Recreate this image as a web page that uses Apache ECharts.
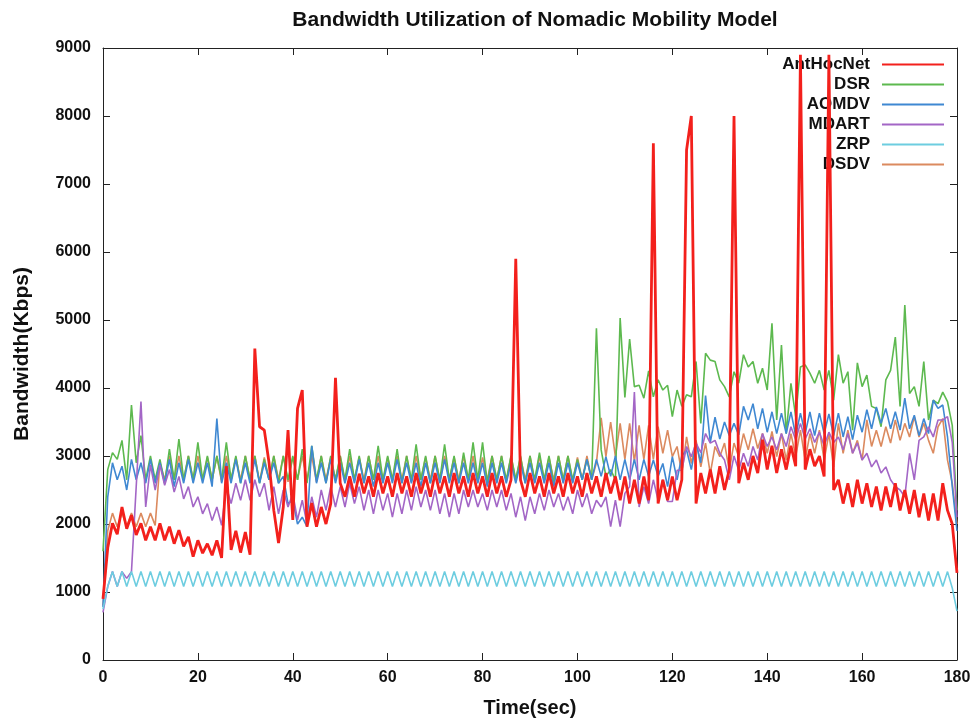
<!DOCTYPE html>
<html>
<head>
<meta charset="utf-8">
<title>Bandwidth Utilization of Nomadic Mobility Model</title>
<script src="https://cdn.jsdelivr.net/npm/echarts@6/dist/echarts.min.js"></script>
<style>
  html, body { margin: 0; padding: 0; background: #fff; }
  #chart { width: 972px; height: 721px; }
</style>
</head>
<body>
<div id="chart"></div>
<script>
// one value per second, t = 0 .. 180
var antHocNet = [
  900, 1650, 2010, 1850, 2250, 1930, 2130, 1840, 2010, 1760,
  1960, 1760, 2010, 1760, 1960, 1710, 1910, 1670, 1810, 1520,
  1760, 1570, 1710, 1540, 1760, 1500, 2850, 1620, 1900, 1580,
  1880, 1550, 4580, 3430, 3380, 2900, 2200, 1720, 2250, 3380,
  2060, 3700, 3970, 1960, 2310, 1960, 2250, 2000, 2300, 4150,
  2600, 2400, 2700, 2400, 2740, 2450, 2700, 2400, 2750, 2450,
  2700, 2400, 2750, 2450, 2700, 2400, 2750, 2450, 2700, 2400,
  2750, 2450, 2700, 2400, 2750, 2450, 2700, 2400, 2750, 2450,
  2700, 2400, 2750, 2450, 2700, 2400, 2650, 5900, 2650, 2400,
  2750, 2450, 2700, 2400, 2750, 2450, 2700, 2400, 2750, 2450,
  2700, 2400, 2750, 2450, 2700, 2400, 2750, 2450, 2700, 2350,
  2700, 2300, 2650, 2300, 2700, 2350, 7600, 2300, 2650, 2350,
  2700, 2350, 2650, 7500, 8000, 2300, 2750, 2450, 2800, 2450,
  2850, 2500, 2800, 8000, 2600, 2900, 2650, 3000, 2750, 3240,
  2800, 3150, 2750, 3100, 2800, 3150, 2850, 8900, 2800, 3100,
  2850, 3000, 2700, 8900, 2500, 2650, 2300, 2600, 2250, 2650,
  2300, 2600, 2250, 2550, 2200, 2550, 2250, 2600, 2200, 2500,
  2150, 2500, 2100, 2450, 2050, 2450, 2050, 2600, 2200, 2000,
  1280
];

var dsr = [
  1600, 2800, 3050, 2950, 3230, 2650, 3750, 2900, 3300, 2650,
  3000, 2650, 2950, 2600, 3100, 2650, 3250, 2650, 3000, 2650,
  3200, 2650, 3000, 2650, 3000, 2650, 3200, 2650, 3000, 2600,
  3000, 2650, 3000, 2600, 2950, 2650, 3000, 2600, 3000, 2650,
  3000, 2650, 3100, 2600, 3150, 2650, 3000, 2600, 3000, 2650,
  3000, 2650, 3100, 2650, 3000, 2600, 3000, 2650, 3150, 2650,
  3000, 2650, 3100, 2600, 3000, 2650, 3170, 2650, 3000, 2600,
  3000, 2650, 3170, 2650, 3000, 2600, 3050, 2650, 3200, 2650,
  3200, 2600, 3000, 2650, 3000, 2650, 3000, 2650, 3000, 2600,
  3000, 2650, 3050, 2650, 3000, 2600, 3000, 2650, 3000, 2650,
  2950, 2650, 2950, 2650, 4880, 3090, 2700, 2800, 2650, 5030,
  3860, 4720, 4020, 4040, 3850, 4250, 3870, 4120, 3970, 4040,
  3580, 3970, 3730, 3900, 3870, 4390, 3480, 4510, 4410, 4390,
  4120, 4020, 3870, 4240, 4070, 4490, 4310, 4390, 4070, 4290,
  3970, 4950, 3530, 4630, 3330, 4070, 3580, 4310, 4340, 4220,
  4070, 4260, 3970, 4260, 3820, 4490, 4070, 4240, 3380, 4370,
  4020, 4190, 3730, 3700, 3430, 4120, 4260, 4750, 3730, 5220,
  3920, 4020, 3730, 4390, 3530, 3820, 3770, 3940, 3800, 3450,
  2200
];

var aomdv = [
  780, 2400, 2900, 2650, 2850, 2500, 2950, 2650, 2900, 2600,
  2950, 2600, 2900, 2600, 2950, 2550, 2900, 2600, 2950, 2600,
  2900, 2600, 2900, 2550, 3550, 2600, 2900, 2600, 2950, 2600,
  2900, 2600, 2950, 2600, 2900, 2650, 2900, 2600, 2700, 2300,
  2350, 2000, 2100, 1960, 3150, 2600, 2900, 2600, 2950, 2600,
  2900, 2600, 2900, 2600, 2950, 2600, 2900, 2550, 2900, 2600,
  2900, 2600, 2950, 2600, 2900, 2600, 2900, 2550, 2900, 2600,
  2900, 2600, 2950, 2600, 2900, 2600, 2900, 2600, 2900, 2600,
  2900, 2550, 2900, 2600, 2900, 2600, 2900, 2600, 2900, 2600,
  2900, 2600, 2900, 2600, 2900, 2550, 2900, 2600, 2900, 2600,
  2900, 2650, 2950, 2650, 2950, 2700, 2990, 2700, 3000, 2650,
  2950, 2650, 2950, 2650, 2950, 2700, 2940, 2700, 2890, 2550,
  2990, 2650, 3000, 3090, 2800, 3190, 2900, 3890, 3200, 3570,
  3250, 3500, 3300, 3480, 3310, 3730, 3530, 3770, 3400, 3700,
  3350, 3650, 3330, 3630, 3330, 3650, 3300, 3630, 3330, 3650,
  3300, 3630, 3330, 3620, 3300, 3630, 3280, 3580, 3240, 3600,
  3350, 3680, 3400, 3720, 3480, 3700, 3400, 3650, 3380, 3850,
  3400, 3600, 3300, 3550, 3330, 3820, 3700, 3750, 3280, 2550,
  1900
];

var mdart = [
  700, 1080, 1300, 1080, 1300, 1200, 1300, 2550, 3800, 2250,
  2870, 2500, 2870, 2570, 2800, 2470, 2700, 2370, 2550, 2250,
  2400, 2150, 2300, 2050, 2250, 1980, 2550, 2300, 2600, 2350,
  2650, 2350, 2650, 2400, 2600, 2200, 2550, 2150, 2500, 2250,
  2450, 2060, 2350, 2000, 2400, 2100, 2500, 2200, 2550, 2250,
  2550, 2250, 2600, 2300, 2550, 2200, 2500, 2150, 2500, 2200,
  2450, 2100, 2450, 2150, 2500, 2200, 2550, 2250, 2500, 2200,
  2500, 2150, 2450, 2100, 2450, 2150, 2500, 2250, 2500, 2250,
  2450, 2200, 2500, 2250, 2500, 2200, 2450, 2100, 2400, 2050,
  2400, 2150, 2450, 2200, 2500, 2250, 2450, 2200, 2400, 2150,
  2500, 2250, 2450, 2150, 2350, 2250, 2400, 1960, 2350, 1960,
  2450, 2550, 3940, 2250, 2550, 2300, 2650, 2350, 2650, 2330,
  2330, 2790, 2790, 3140, 2990, 3190, 3050, 3330, 3190, 3230,
  3040, 2940, 2650, 3000, 2790, 3040, 2850, 3140, 2940, 3330,
  3140, 3280, 3090, 3330, 3140, 3430, 3240, 3480, 3250, 3400,
  3200, 3350, 3150, 3350, 3200, 3280, 3090, 3330, 3040, 3190,
  2940, 3040, 2840, 2940, 2750, 2840, 2650, 2550, 2500, 2400,
  3040, 2650, 3230, 3280, 3430, 3280, 3530, 3530, 3580, 3200,
  2100
];

var zrp = [
  750, 1080, 1300, 1080, 1300, 1080, 1300, 1080, 1300, 1080,
  1300, 1080, 1300, 1080, 1300, 1080, 1300, 1080, 1300, 1080,
  1300, 1080, 1300, 1080, 1300, 1080, 1300, 1080, 1300, 1080,
  1300, 1080, 1300, 1080, 1300, 1080, 1300, 1080, 1300, 1080,
  1300, 1080, 1300, 1080, 1300, 1080, 1300, 1080, 1300, 1080,
  1300, 1080, 1300, 1080, 1300, 1080, 1300, 1080, 1300, 1080,
  1300, 1080, 1300, 1080, 1300, 1080, 1300, 1080, 1300, 1080,
  1300, 1080, 1300, 1080, 1300, 1080, 1300, 1080, 1300, 1080,
  1300, 1080, 1300, 1080, 1300, 1080, 1300, 1080, 1300, 1080,
  1300, 1080, 1300, 1080, 1300, 1080, 1300, 1080, 1300, 1080,
  1300, 1080, 1300, 1080, 1300, 1080, 1300, 1080, 1300, 1080,
  1300, 1080, 1300, 1080, 1300, 1080, 1300, 1080, 1300, 1080,
  1300, 1080, 1300, 1080, 1300, 1080, 1300, 1080, 1300, 1080,
  1300, 1080, 1300, 1080, 1300, 1080, 1300, 1080, 1300, 1080,
  1300, 1080, 1300, 1080, 1300, 1080, 1300, 1080, 1300, 1080,
  1300, 1080, 1300, 1080, 1300, 1080, 1300, 1080, 1300, 1080,
  1300, 1080, 1300, 1080, 1300, 1080, 1300, 1080, 1300, 1080,
  1300, 1080, 1300, 1080, 1300, 1080, 1300, 1080, 1300, 1060,
  720
];

var dsdv = [
  800, 1900, 2160, 1960, 2160, 1960, 2160, 1960, 2160, 1960,
  2160, 1980, 2900, 2650, 3000, 2650, 3000, 2650, 3000, 2650,
  3000, 2650, 2980, 2650, 3000, 2620, 3000, 2650, 2980, 2650,
  3000, 2650, 3000, 2620, 2980, 2650, 3000, 2650, 3000, 2620,
  2980, 2650, 3000, 2650, 3000, 2620, 3000, 2650, 2980, 2650,
  3000, 2620, 3000, 2650, 2980, 2650, 3000, 2650, 3000, 2620,
  2980, 2650, 3000, 2650, 3000, 2620, 3000, 2650, 2980, 2650,
  3000, 2620, 3000, 2650, 2980, 2650, 3000, 2650, 3000, 2620,
  2980, 2650, 3000, 2650, 3000, 2620, 3000, 2650, 2980, 2650,
  3000, 2620, 3000, 2650, 2980, 2650, 3000, 2650, 3000, 2620,
  2980, 2650, 3000, 2650, 2900, 3560, 2990, 3500, 2990, 3480,
  2950, 3480, 2920, 3450, 2950, 3450, 2950, 3430, 3040, 3380,
  2990, 3140, 2740, 3280, 2890, 3230, 2840, 3190, 2740, 3140,
  2990, 3190, 2790, 3190, 2990, 3330, 3090, 3400, 3110, 3330,
  3040, 3360, 2990, 3330, 2940, 3330, 2990, 3380, 2940, 3330,
  3040, 3380, 2940, 3330, 2840, 3480, 3040, 3380, 3040, 3230,
  2940, 3530, 3140, 3380, 3140, 3430, 3190, 3530, 3230, 3480,
  3280, 3580, 3280, 3480, 3230, 3040, 3430, 3550, 2940, 2600,
  2000
];

var seriesNames = ['AntHocNet', 'DSR', 'AOMDV', 'MDART', 'ZRP', 'DSDV'];
var xTicks = { min: 0, max: 180, interval: 20 };
var yTicks = { min: 0, max: 9000, interval: 1000 };

var font = '"Liberation Sans", Arial, sans-serif';
var frameColor = '#222';

var chart = echarts.init(document.getElementById('chart'));

// [time, value] pairs, time taken from the position in the array
function toPoints(values) {
  return values.map(function (v, i) { return [i, v]; });
}

function lineSeries(name, values, color, width, z) {
  return {
    name: name,
    type: 'line',
    data: toPoints(values),
    symbol: 'none',
    showSymbol: false,
    z: z,
    lineStyle: { color: color, width: width },
    itemStyle: { color: color }
  };
}

// gnuplot style frame: every side gets a line and inward ticks
function frameAxis(extra, range) {
  var axis = {
    type: 'value',
    min: range.min,
    max: range.max,
    interval: range.interval,
    splitLine: { show: false },
    axisLine: { show: true, onZero: false, lineStyle: { color: frameColor, width: 1 } },
    axisTick: { show: true, inside: true, length: 7, lineStyle: { color: frameColor, width: 1 } }
  };
  return Object.assign(axis, extra);
}

var labelStyle = { fontFamily: font, fontWeight: 'bold', fontSize: 16, color: '#111' };

chart.setOption({
  animation: false,
  backgroundColor: '#fff',
  title: {
    text: 'Bandwidth Utilization of Nomadic Mobility Model',
    left: 530,
    top: 5,
    textAlign: 'center',
    textStyle: { fontFamily: font, fontWeight: 'bold', fontSize: 21, color: '#111' }
  },
  legend: {
    data: seriesNames,
    orient: 'vertical',
    right: 23,
    top: 51,
    align: 'right',
    icon: 'rect',
    itemWidth: 62,
    itemHeight: 2,
    itemGap: 3,
    selectedMode: false,
    textStyle: { fontFamily: font, fontWeight: 'bold', fontSize: 17, color: '#111', padding: [0, 7, 0, 0] }
  },
  grid: { left: 103, right: 15, top: 48, bottom: 61, outerBoundsMode: 'none' },
  xAxis: [
    frameAxis({
      position: 'bottom',
      name: 'Time(sec)',
      nameLocation: 'middle',
      nameGap: 38,
      nameTextStyle: { fontFamily: font, fontWeight: 'bold', fontSize: 20, color: '#111' },
      axisLabel: Object.assign({ margin: 10 }, labelStyle)
    }, xTicks),
    frameAxis({ position: 'top', axisLabel: { show: false } }, xTicks)
  ],
  yAxis: [
    frameAxis({
      position: 'left',
      name: 'Bandwidth(Kbps)',
      nameLocation: 'middle',
      nameGap: 70,
      nameTextStyle: { fontFamily: font, fontWeight: 'bold', fontSize: 21, color: '#111' },
      axisLabel: Object.assign({
        margin: 12,
        formatter: function (v) { return String(v); }
      }, labelStyle)
    }, yTicks),
    frameAxis({ position: 'right', axisLabel: { show: false } }, yTicks)
  ],
  series: [
    lineSeries('AntHocNet', antHocNet, '#f3201c', 2.8, 8),
    lineSeries('DSR', dsr, '#5db94f', 1.6, 3),
    lineSeries('AOMDV', aomdv, '#3f88d2', 1.6, 4),
    lineSeries('MDART', mdart, '#a366c6', 1.6, 5),
    lineSeries('ZRP', zrp, '#6dcde0', 1.6, 6),
    lineSeries('DSDV', dsdv, '#db8a5f', 1.6, 2)
  ]
});
</script>
</body>
</html>
